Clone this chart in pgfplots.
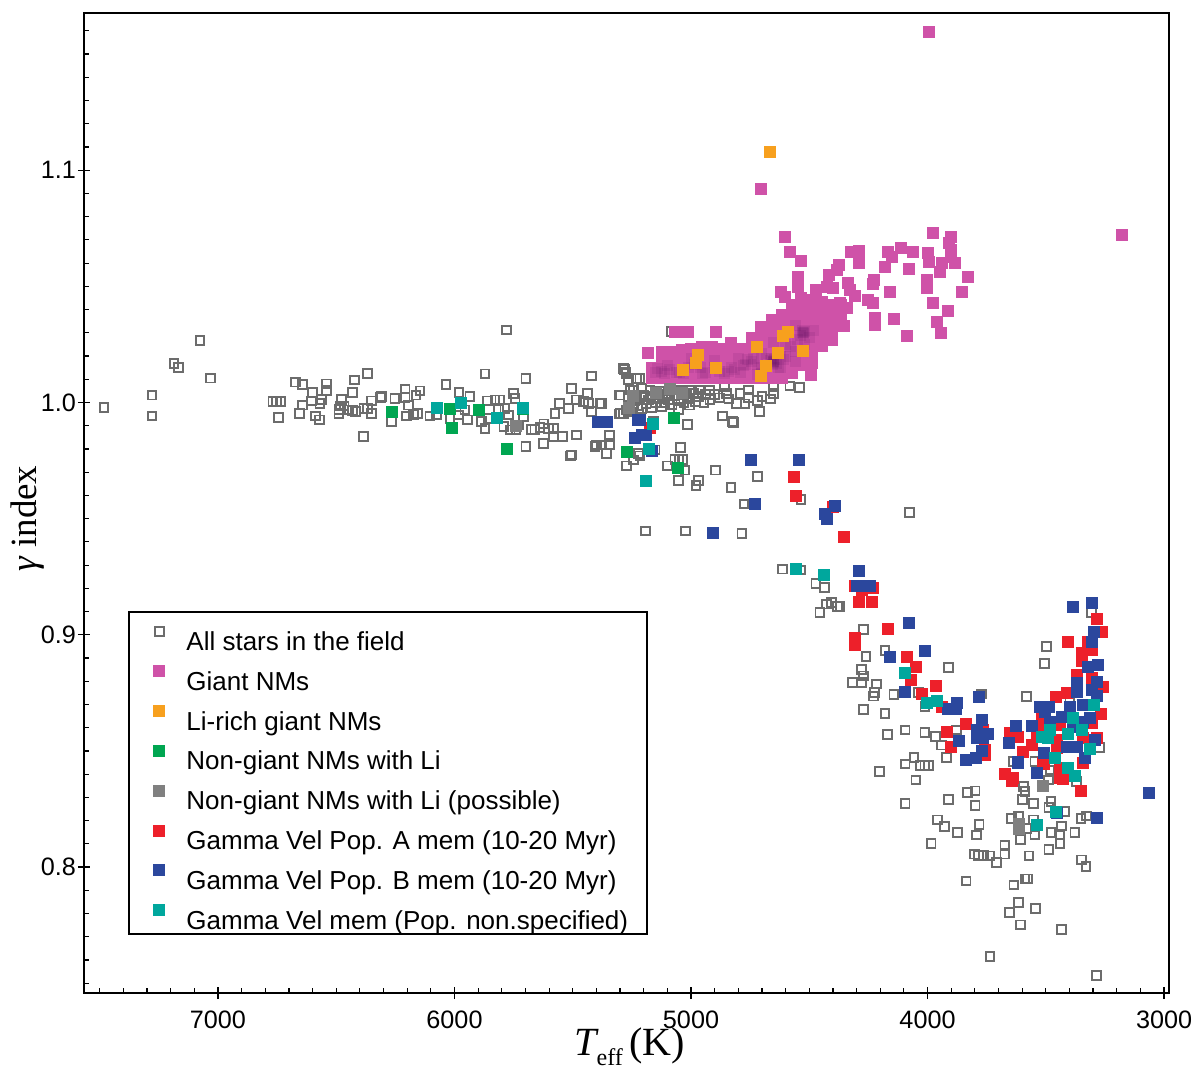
\documentclass[border=0pt]{standalone}
\usepackage{pgfplots}
\pgfplotsset{compat=1.18}
\usepackage{fontspec}
\setmainfont{Liberation Sans}
\newfontfamily\serifrm{Liberation Serif}
\definecolor{cpink}{RGB}{207,82,168}
\definecolor{cdark}{RGB}{70,0,80}
\definecolor{corange}{RGB}{247,160,30}
\definecolor{cgreen}{RGB}{0,166,81}
\definecolor{cgray}{RGB}{128,128,128}
\definecolor{copen}{RGB}{108,108,108}
\definecolor{cred}{RGB}{237,32,42}
\definecolor{cblue}{RGB}{43,71,157}
\definecolor{cteal}{RGB}{0,167,157}
\newcommand{\LL}[1]{\makebox[229.5pt][l]{\rule[-1.5pt]{0pt}{19.9pt}#1}}
\pgfplotsset{solid mark/.style={only marks,mark=square*,mark size=2.75pt,mark options={draw=#1,fill=#1,line width=0pt}}}
\begin{document}
\begin{tikzpicture}
\useasboundingbox (-42pt,-39pt) rectangle (558pt,496.5pt);
\begin{axis}[
  at={(0pt,0pt)},anchor=south west,
  scale only axis,width=542.5pt,height=490.15pt,
  x dir=reverse,
  xmin=2979,xmax=7566.6,ymin=0.7458,ymax=1.1678,
  xtick={3000,4000,5000,6000,7000},
  ytick={0.8,0.9,1.0,1.1},
  minor xtick={3000,3100,...,7500},
  minor ytick={0.75,0.76,...,1.16},
  xtick pos=bottom,ytick pos=left,
  tick align=center,
  major tick length=6pt,minor tick length=2.5pt,
  tick style={black,line width=0.6pt},
  minor x tick style={yshift=1.25pt},
  minor y tick style={xshift=1.25pt},
  axis line style={black,line width=1pt},
  ticklabel style={font=\fontsize{12.6}{15}\selectfont},
  x tick label style={/pgf/number format/.cd,1000 sep={},assume math mode=true},
  y tick label style={/pgf/number format/.cd,fixed,fixed zerofill,precision=1,assume math mode=true},
  xticklabel shift=2.5pt,
  yticklabel shift=-2.5pt,
  xlabel={{\serifrm\fontsize{20}{22}\selectfont\itshape T}\raisebox{-5pt}{\serifrm\fontsize{12}{12}\selectfont eff}{\serifrm\fontsize{20}{22}\selectfont\,(K)}},
  xlabel style={at={(axis description cs:0.503,-0.064)},anchor=base},
  ylabel={{\serifrm\fontsize{18.5}{22}\selectfont\itshape γ}{\serifrm\fontsize{18.5}{22}\selectfont{} index}},
  ylabel style={at={(axis description cs:-0.0516,0.484)},anchor=center,rotate=0},
  legend style={at={(rel axis cs:0.0410,0.3900)},anchor=north west,
    draw=black,line width=1pt,fill=white,inner sep=1pt,row sep=0pt,column sep=0pt,
    font=\fontsize{13}{15}\selectfont,nodes={inner sep=0pt}},
  legend cell align=left,
  legend image code/.code={
    \path (-13.5pt,0pt) (13pt,8.5pt);
    \draw[#1] plot coordinates {(0pt,1pt)};
  },
]
% All stars in the field
\addplot[only marks,mark=square,mark size=2.2pt,mark options={draw=copen,line width=0.95pt,fill=none}] coordinates {
(7482,.9979)(7279,1.0032)(7279,.9942)(7076,1.0266)(7186,1.0167)(7168,1.0150)(7031,1.0105)
(6768,1.0005)(6752,1.0005)(6735,1.0005)(6745,.9935)(6673,1.0088)(6644,1.0078)(6542,1.0080)(6542,1.0051)
(6599,1.0042)(6422,1.0097)(6369,1.0124)(6432,1.0042)(6313,1.0022)(6563,1.0014)(6606,1.0007)(6569,.9997)
(6644,.9989)(6654,.9952)(6589,.9942)(6570,.9925)(6479,1.0014)(6350,1.0007)(6482,.9985)(6467,.9985)
(6489,.9953)(6489,.9971)(6446,.9968)(6432,.9965)(6418,.9961)(6383,.9975)(6369,.9975)(6350,.9952)(6386,.9853)
(6308,1.0025)(6146,1.0050)(6209,1.0058)(6252,1.0018)(6209,1.0022)(6163,1.0032)(6195,.9989)(6157,.9953)
(6174,.9949)(6202,.9942)(6266,.9918)(6036,1.0077)(5981,1.0042)(5935,1.0025)(5871,1.0123)(5780,1.0312)
(5698,1.0104)(5861,1.0007)(5808,1.0011)(5751,1.0039)(5744,1.0018)(5829,1.0011)(6104,.9942)(6075,.9946)
(6019,.9932)(5984,.9946)(5944,.9925)(5956,.9968)(5885,.9918)(5871,.9889)(5857,.9932)(5815,.9968)(5787,.9975)
(5772,.9946)(5791,.9896)(5765,.9882)(5740,.9882)(5730,.9903)(5709,.9939)(5674,.9885)(5660,.9885)(5639,.9893)
(5622,.9908)(5603,.9889)(5582,.9889)(5582,.9853)(5543,.9853)(5484,.9860)(5698,.9810)(5625,.9824)(5509,.9770)
(5505,.9774)(5575,.9953)(5557,.9997)(5519,.9975)(5505,1.0061)(5484,1.0011)(5455,1.0004)(5439,1.0039)(5420,1.0114)
(5434,.9997)(5385,.9997)(5420,.9961)(5406,.9810)(5399,.9817)(5346,.9860)(5346,.9817)(5357,.9781)(5301,1.0032)
(5303,.9951)(5282,1.0143)(5275,1.0129)(5265,1.0100)(5230,1.0104)(5244,1.0054)(5265,1.0025)(5258,.9989)
(5272,.9968)(5286,.9953)(5244,.9997)(5244,.9753)(5272,.9727)(5223,.9781)
(5284,1.0147)(5275,1.0126)(5265,1.0097)(5216,1.0104)(5300,1.0032)(5258,1.0054)(5209,1.0061)(5174,1.0054)
(5131,1.0047)(5089,1.0054)(5047,1.0054)(5005,1.0054)(4962,1.0054)(4920,1.0054)(4857,1.0068)(4850,1.0040)
(4793,1.0040)(4758,1.0054)(4652,1.0068)(4652,1.0040)(4582,1.0071)(4542,1.0065)(5230,1.0018)(5181,1.0011)
(5138,1.0018)(5096,1.0011)(5054,1.0018)(5011,1.0018)(4969,1.0025)(4920,1.0011)(4758,1.0022)(4720,1.0008)
(4807,.9997)(4772,.9994)(5300,.9953)(5265,.9982)(5209,.9975)(5167,.9979)(5124,.9982)(5054,.9971)(5005,.9989)
(4711,.9961)(4867,.9942)(4824,.9918)(5016,.9907)(5160,.9918)(5345,.9860)(5378,.9996)
(5200,1.0030)(5170,1.0025)(5150,1.0035)(5120,1.0030)(5100,1.0035)(5070,1.0030)(5040,1.0035)(5020,1.0040)
(4990,1.0040)(4940,1.0035)(4900,1.0035)(5240,1.0010)(5190,.9995)(5150,1.0000)(5110,1.0000)(5080,.9990)(5030,1.0000)
(4980,1.0005)(4945,1.0000)(4880,1.0020)(4840,1.0015)(4700,1.0025)(4665,1.0015)(5220,.9950)(5260,.9960)
(5082,1.0305)
(5016,.9905)(4821,.9913)(5346,.9860)(5346,.9821)(5357,.9781)(5378,.9817)(5244,.9752)(5216,.9770)(5272,.9727)
(5152,.9796)(5043,.9807)(5068,.9755)(5051,.9755)(5036,.9755)(5099,.9727)(5026,.9709)(5052,.9664)(4969,.9664)
(4979,.9643)(4896,.9709)(4720,.9681)(4831,.9635)(4776,.9563)(4535,.9583)(4077,.9527)(5191,.9447)(5024,.9447)
(4785,.9437)(4613,.9283)(4535,.9279)(4472,.9222)(4437,.9203)(4427,.9132)(4406,.9138)(4382,.9121)(4455,.9095)
(4370,.9121)(4271,.9023)(4180,.8932)(4260,.8906)(4278,.8851)(4271,.8823)(4316,.8795)(4278,.8795)(4215,.8788)
(4225,.8751)(4229,.8736)(4142,.8744)(4039,.8751)(3912,.8860)(4011,.8691)(4271,.8679)(4180,.8662)(4169,.8571)
(4095,.8590)(4011,.8580)(3966,.8561)(3940,.8525)(3877,.8590)(3919,.8471)(4057,.8471)(4095,.8444)(4032,.8437)
(4011,.8437)(3997,.8437)(4204,.8411)(4049,.8375)(3771,.8745)(3581,.8733)(3506,.8877)(3496,.8949)(3306,.9095)
(3271,.8515)(3637,.8454)(3546,.8454)(3398,.8720)
(4095,.8274)(3912,.8292)(3832,.8320)(3799,.8328)(3799,.8264)(3595,.8346)(3588,.8325)(3598,.8292)(3553,.8274)
(3478,.8282)(3487,.8256)(3419,.8239)(3957,.8203)(3929,.8174)(3874,.8148)(3782,.8184)(3792,.8138)(3985,.8102)
(3644,.8210)(3616,.8220)(3616,.8188)(3616,.8160)(3581,.8167)(3553,.8203)(3546,.8138)(3608,.8119)(3478,.8148)
(3433,.8177)(3440,.8138)(3440,.8102)(3487,.8076)(3377,.8148)(3351,.8210)(3327,.8220)(3802,.8056)(3785,.8049)
(3764,.8049)(3736,.8048)(3708,.8020)(3673,.8095)(3673,.8056)(3571,.8048)(3349,.8031)(3330,.8002)(3837,.7940)
(3635,.7923)(3588,.7949)(3577,.7949)(3616,.7848)(3543,.7822)(3654,.7804)(3608,.7751)(3433,.7732)(3736,.7614)
(3285,.7533)(3489,.8375)(3482,.8418)(3370,.8368)
};
\addlegendentry{\LL{All stars in the field}}
% Giant NMs
\addplot[solid mark=cpink] coordinates {
(3995,1.1595)(4704,1.0919)(3178,1.0721)(5068,1.0305)(5035,1.0305)(5011,1.0305)(4895,1.0305)(5181,1.0215)
(4603,1.0711)(4582,1.0646)(4537,1.0611)(3976,1.0728)(3902,1.0711)(3908,1.0685)(3902,1.0657)(3902,1.0628)
(3884,1.0602)(3938,1.0602)(3948,1.0563)(3997,1.0642)(3994,1.0606)(4004,1.0527)(4004,1.0492)(3828,1.0539)
(3856,1.0474)(3976,1.0430)(3912,1.0395)(3959,1.0348)(3941,1.0301)(4060,1.0646)(4114,1.0664)(4166,1.0646)
(4152,1.0625)(4180,1.0585)(4077,1.0575)(4289,1.0654)(4325,1.0646)(4289,1.0599)(4373,1.0592)(4381,1.0571)
(4415,1.0549)(4225,1.0527)(4232,1.0510)(4159,1.0474)(4253,1.0441)(4232,1.0430)(4335,1.0513)(4328,1.0484)
(4307,1.0458)(4398,1.0492)(4427,1.0499)(4472,1.0484)(4546,1.0539)(4546,1.0499)(4621,1.0477)(4603,1.0456)
(4222,1.0362)(4222,1.0333)(4142,1.0358)(4086,1.0286)(4352,1.0329)(4370,1.0427)(4342,1.0405)(4493,1.0118)
(5167,1.0104)(5167,1.0125)(5167,1.0147)
(5124,1.0104)(5124,1.0147)(5124,1.0190)(5124,1.0219)
(5082,1.0104)(5082,1.0147)(5082,1.0190)(5082,1.0219)
(5040,1.0104)(5040,1.0147)(5040,1.0190)(5040,1.0225)
(5000,1.0104)(5000,1.0147)(5000,1.0190)(5000,1.0232)
(4955,1.0104)(4955,1.0147)(4955,1.0190)(4955,1.0237)
(4913,1.0104)(4913,1.0147)(4913,1.0190)(4913,1.0237)
(4871,1.0104)(4871,1.0147)(4871,1.0190)(4871,1.0232)
(4829,1.0104)(4829,1.0147)(4829,1.0190)(4829,1.0225)(4829,1.0254)
(4786,1.0104)(4786,1.0147)(4786,1.0190)(4786,1.0232)
(4744,1.0104)(4744,1.0147)(4744,1.0190)(4744,1.0233)(4744,1.0276)
(4702,1.0104)(4702,1.0147)(4702,1.0190)(4702,1.0233)(4702,1.0276)(4702,1.0326)
(4659,1.0104)(4659,1.0147)(4659,1.0190)(4659,1.0233)(4659,1.0276)(4659,1.0319)(4659,1.0355)
(4617,1.0104)(4617,1.0147)(4617,1.0190)(4617,1.0233)(4617,1.0276)(4617,1.0319)(4617,1.0362)(4617,1.0376)
(4575,1.0125)(4575,1.0168)(4575,1.0211)(4575,1.0254)(4575,1.0297)(4575,1.0340)(4575,1.0383)(4575,1.0418)
(4533,1.0160)(4533,1.0203)(4533,1.0246)(4533,1.0289)(4533,1.0332)(4533,1.0375)(4533,1.0418)(4533,1.0450)
(4490,1.0168)(4490,1.0211)(4490,1.0254)(4490,1.0297)(4490,1.0340)(4490,1.0383)(4490,1.0426)(4490,1.0440)
(4448,1.0245)(4448,1.0288)(4448,1.0331)(4448,1.0374)(4448,1.0417)(4448,1.0433)
(4406,1.0270)(4406,1.0313)(4406,1.0356)(4406,1.0399)(4406,1.0418)
(4364,1.0376)(4364,1.0418)
};
\addlegendentry{\LL{Giant NMs}}
% denser parts of the same cloud
\addplot[forget plot,only marks,mark=square*,mark size=2.75pt,mark options={draw=cdark,draw opacity=0,line width=0pt,fill=cdark,fill opacity=0.09}] coordinates {
(5140,1.0145)(5125,1.0135)(5150,1.0130)(5110,1.0125)(5090,1.0140)(5060,1.0130)(5030,1.0125)(5010,1.0150)
(4985,1.0165)(4960,1.0150)(4940,1.0130)(4900,1.0150)(4880,1.0135)(4860,1.0125)(4830,1.0150)(4815,1.0140)
(4840,1.0135)(4790,1.0130)(4780,1.0160)(4760,1.0185)(4745,1.0175)(4735,1.0190)(4770,1.0165)(4720,1.0165)
(4700,1.0150)(4680,1.0190)(4665,1.0180)(4650,1.0175)(4640,1.0170)(4655,1.0165)(4660,1.0190)(4645,1.0185)
(4650,1.0175)(4652,1.0172)(4630,1.0150)(4610,1.0185)(4530,1.0300)(4525,1.0295)(4520,1.0305)(4535,1.0290)
(4525,1.0300)(4530,1.0310)(4550,1.0270)(4580,1.0240)(4600,1.0200)(4560,1.0220)(4620,1.0150)(4700,1.0125)
(4950,1.0125)(5050,1.0130)(4720,1.0120)(4560,1.0175)(4600,1.0250)(4520,1.0250)(4500,1.0280)(4480,1.0310)
(4650,1.0260)(4560,1.0330)(4620,1.0200)(5100,1.0160)(5000,1.0190)(4900,1.0180)(4800,1.0190)(4700,1.0210)
};
% Li-rich giant NMs
\addplot[solid mark=corange] coordinates {
(5033,1.0140)(4979,1.0169)(4969,1.0204)(4896,1.0150)(4723,1.0240)(4683,1.0158)(4704,1.0114)(4631,1.0214)
(4528,1.0223)(4610,1.0286)(4592,1.0302)(4666,1.1078)
};
\addlegendentry{\LL{Li-rich giant NMs}}
% Non-giant NMs with Li
\addplot[solid mark=cgreen] coordinates {
(6266,.9961)(6019,.9971)(6009,.9889)(5898,.9968)(5780,.9798)(5709,.9971)(5272,.9788)(5072,.9935)(5054,.9717)
};
\addlegendentry{\LL{Non-giant NMs with Li}}
% Non-giant NMs with Li (possible)
\addplot[solid mark=cgray] coordinates {
(5262,.9975)(5245,1.0030)(5150,1.0040)(5090,1.0060)(5040,1.0040)(3615,.8185)(3612,.8165)(3510,.8350)(5740,.9900)
};
\addlegendentry{\LL{Non-giant NMs with Li (possible)}}
% Gamma Vel Pop. A
\addplot[solid mark=cred] coordinates {
(5174,.9889)(4565,.9681)(4554,.9599)(4399,.9549)(4354,.9420)(4307,.9211)(4279,.9193)(4232,.9203)(4289,.9140)(4234,.9140)
(4169,.9023)(4307,.8988)(4307,.8956)(4085,.8906)(4049,.8860)(4070,.8805)(3966,.8780)(4022,.8744)(3940,.8690)
(3837,.8616)(3919,.8580)(3764,.8590)(3902,.8518)(3757,.8504)(3757,.8482)(3285,.9068)(3264,.9013)(3405,.8970)
(3320,.8970)(3306,.8934)(3348,.8920)(3348,.8889)(3370,.8827)(3306,.8813)(3257,.8777)(3412,.8751)(3457,.8733)
(3267,.8659)(3518,.8640)(3510,.8612)(3440,.8612)(3306,.8619)(3651,.8576)(3616,.8561)(3539,.8561)(3454,.8547)
(3560,.8525)(3595,.8497)(3454,.8511)(3510,.8446)(3341,.8554)(3285,.8554)(3341,.8446)(3672,.8401)(3637,.8382)
(3426,.8418)(3440,.8382)(3643,.8372)(3506,.8444)(3440,.8425)(3426,.8378)(3349,.8327)(3341,.8450)
};
\addlegendentry{\LL{Gamma Vel Pop. A mem (10-20 Myr)}}
% Gamma Vel Pop. B
\addplot[solid mark=cblue] coordinates {
(5392,.9916)(5357,.9916)(5223,.9925)(5237,.9846)(5216,.9925)(5209,.9860)(5192,.9860)(5164,.9791)
(4748,.9752)(4545,.9752)(4731,.9563)(4905,.9437)(4390,.9554)(4433,.9519)(4427,.9499)(4289,.9275)
(4300,.9212)(4272,.9212)(4244,.9212)
(3386,.9121)(3303,.9138)(3295,.9013)(3303,.8970)(4077,.9049)(4011,.8932)(4159,.8906)(4095,.8752)(3320,.8860)
(3278,.8870)(3370,.8791)(3370,.8755)(3285,.8798)(3306,.8762)(3285,.8736)(3781,.8734)(3877,.8705)(3912,.8679)
(3880,.8679)(3771,.8633)(3792,.8590)(3792,.8554)(3743,.8573)(3764,.8554)(3866,.8544)(3771,.8500)(3795,.8471)
(3837,.8461)(3525,.8688)(3485,.8688)(3503,.8669)(3398,.8688)(3626,.8607)(3560,.8607)(3654,.8536)(3616,.8454)
(3482,.8626)(3433,.8648)(3341,.8698)(3313,.8640)(3341,.8626)(3384,.8605)(3292,.8547)(3412,.8518)(3370,.8518)
(3334,.8468)(3506,.8490)(3536,.8406)(3539,.8404)(3616,.8450)(3064,.8318)(3285,.8210)(3454,.8231)
};
\addlegendentry{\LL{Gamma Vel Pop. B mem (10-20 Myr)}}
% Gamma Vel mem
\addplot[solid mark=cteal] coordinates {
(6073,.9978)(5973,.9996)(5819,.9935)(5712,.9975)(5162,.9906)(5178,.9798)(5191,.9662)(4554,.9283)(4437,.9257)
(4095,.8834)(4004,.8708)(3961,.8716)(3295,.8698)(3386,.8640)(3482,.8590)(3518,.8561)(3489,.8554)(3405,.8572)
(3348,.8590)(3313,.8508)(3461,.8471)(3405,.8425)(3377,.8394)(3458,.8239)(3536,.8181)
};
\addlegendentry{\LL{Gamma Vel mem (Pop. non.specified)}}
\end{axis}
\end{tikzpicture}
\end{document}
